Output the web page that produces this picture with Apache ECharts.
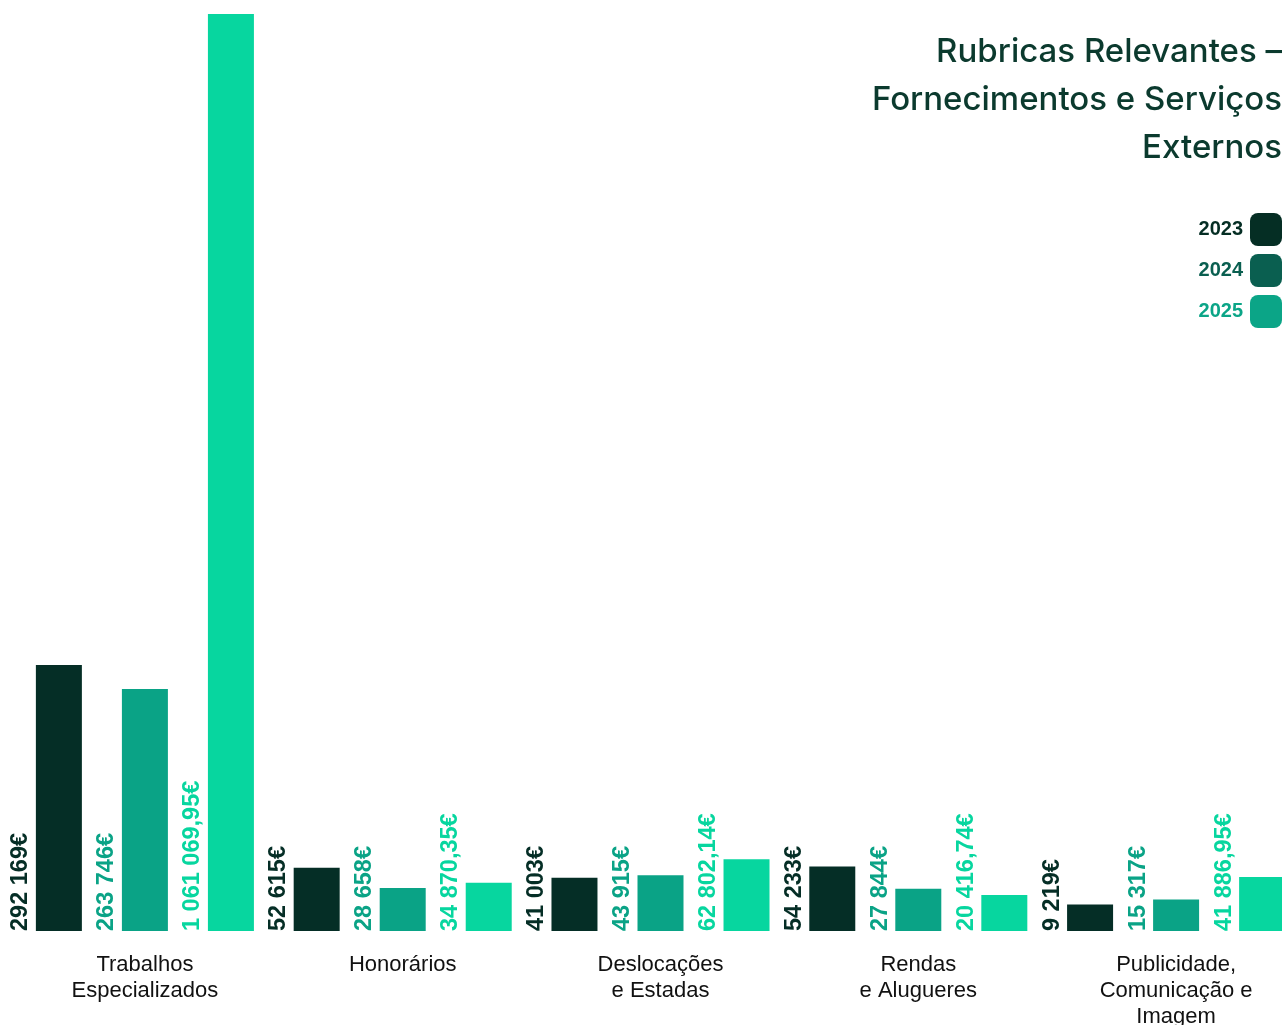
<!DOCTYPE html>
<html>
<head>
<meta charset="utf-8">
<script src="https://cdn.jsdelivr.net/npm/echarts@6/dist/echarts.min.js"></script>
<style>
  html, body { margin: 0; padding: 0; background: #ffffff; }
  #chart { width: 1282px; height: 1025px; }
</style>
</head>
<body>
<div id="chart"></div>
<script>
const categories = [
  'Trabalhos\nEspecializados',
  'Honorários',
  'Deslocações\ne Estadas',
  'Rendas\ne Alugueres',
  'Publicidade,\nComunicação e\nImagem'
];
const seriesNames = ['2023', '2024', '2025'];
const values2023 = [292169, 52615, 41003, 54233, 9219];
const values2024 = [263746, 28658, 43915, 27844, 15317];
const values2025 = [1061069.95, 34870.35, 62802.14, 20416.74, 41886.95];
const titleText = 'Rubricas Relevantes –\nFornecimentos e Serviços\nExternos';

const barColors = ['#052e26', '#0aa386', '#07d69f'];
const legendColors = ['#052e24', '#0a5f50', '#0ba587'];

function fmt(v) {
  const isInt = Math.abs(v - Math.round(v)) < 1e-9;
  let s = isInt ? String(Math.round(v)) : v.toFixed(2);
  let [ip, dp] = s.split('.');
  ip = ip.replace(/\B(?=(\d{3})+(?!\d))/g, ' ');
  return ip + (dp ? ',' + dp : '') + '€';
}

const allValues = [values2023, values2024, values2025];
const chart = echarts.init(document.getElementById('chart'));

const series = seriesNames.map((name, i) => ({
  name: name,
  type: 'bar',
  data: allValues[i],
  barWidth: 46,
  barGap: '87%',
  itemStyle: { color: barColors[i] },
  label: {
    show: true,
    position: [-15, '100%'],
    rotate: 90,
    align: 'left',
    verticalAlign: 'middle',
    formatter: p => fmt(p.value),
    color: barColors[i],
    fontFamily: 'Liberation Sans',
    fontWeight: 'bold',
    fontSize: 23.5
  },
  emphasis: { disabled: true }
}));

chart.setOption({
  animation: false,
  backgroundColor: '#ffffff',
  title: {
    text: titleText,
    left: 'right',
    top: 28,
    padding: 0,
    textStyle: {
      fontFamily: 'Inter',
      fontWeight: 500,
      fontSize: 33,
      lineHeight: 48,
      color: '#0b3a2e'
    }
  },
  legend: {
    orient: 'vertical',
    right: 0,
    top: 213,
    padding: 0,
    align: 'right',
    icon: 'roundRect',
    itemWidth: 32,
    itemHeight: 33,
    itemGap: 8,
    selectedMode: false,
    textStyle: { fontFamily: 'Liberation Sans', fontWeight: 'bold', fontSize: 20, padding: [4, 2, 0, 0] },
    data: seriesNames.map((n, i) => ({
      name: n,
      itemStyle: { color: legendColors[i] },
      textStyle: { color: legendColors[i] }
    }))
  },
  grid: { left: 16, width: 1289, top: 14, bottom: 94, containLabel: false, outerBoundsMode: 'none' },
  xAxis: {
    type: 'category',
    data: categories,
    axisLine: { show: false, onZero: false },
    axisTick: { show: false },
    axisLabel: {
      interval: 0,
      margin: 21,
      fontFamily: 'Liberation Sans',
      fontSize: 22,
      lineHeight: 26,
      color: '#111111'
    }
  },
  yAxis: {
    type: 'value',
    min: -22000,
    max: 'dataMax',
    startValue: -22000,
    show: false,
    splitLine: { show: false }
  },
  series: series
});
</script>
</body>
</html>
